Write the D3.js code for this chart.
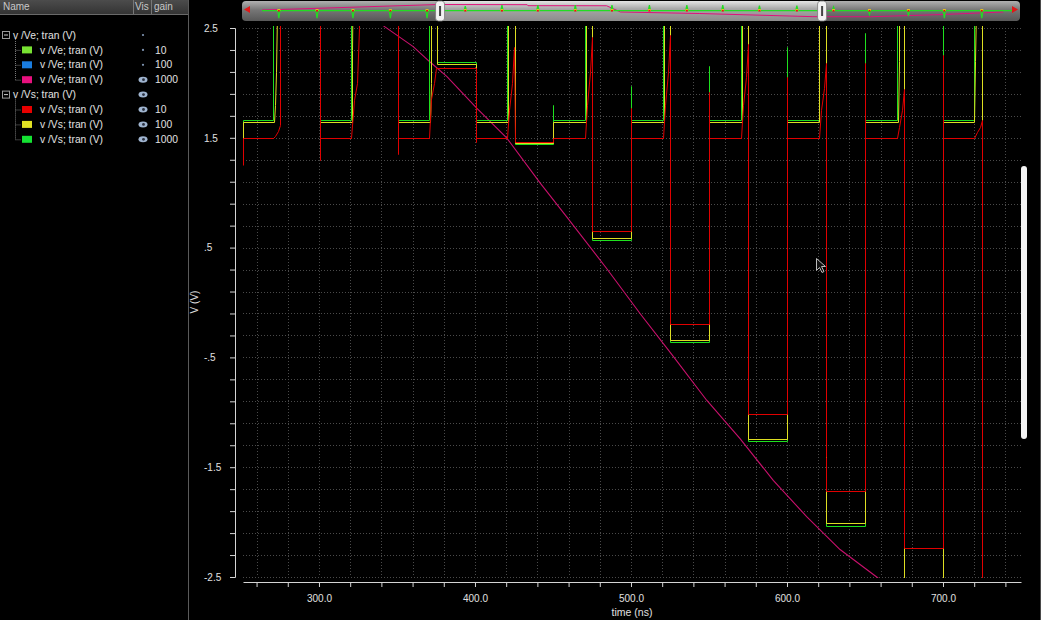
<!DOCTYPE html>
<html><head><meta charset="utf-8">
<script src="https://cdn.jsdelivr.net/npm/d3@7"></script>
<style>
html,body{margin:0;padding:0;background:#000;overflow:hidden}
svg{display:block}
text{font-family:"Liberation Sans",Arial,sans-serif}
</style>
</head><body>
<svg id="c" width="1041" height="620"></svg>
<script>
// ---------------- data ----------------
const legendLabels = ["v /Ve; tran (V)","v /Ve; tran (V)","v /Ve; tran (V)","v /Ve; tran (V)",
                      "v /Vs; tran (V)","v /Vs; tran (V)","v /Vs; tran (V)","v /Vs; tran (V)"];
const legendLevels = [0,1,1,1,0,1,1,1];
const legendColors = [null,"#78e232","#1a7de0","#e8107e",null,"#e80000","#e2e224","#14e232"];
const legendVisible = [false,false,false,true,true,true,true,true];
const legendGains = ["","10","100","1000","","10","100","1000"];

const xMajorTicks = [300,400,500,600,700];
const xTickLabels = ["300.0","400.0","500.0","600.0","700.0"];
const yLabelTicks = [2.5,1.5,0.5,-0.5,-1.5,-2.5];
const yTickLabels = ["2.5","1.5",".5","-.5","-1.5","-2.5"];
const xAxisTitle = "time (ns)";
const yAxisTitle = "V (V)";

// v /Ve gain 1000 (magenta) [time ns, V]
const ve1000 = [[320,2.75],[342.3,2.51],[360.4,2.33],[371.2,2.19],[381.9,2.06],[401.1,1.77],[420.3,1.50],
  [441.7,1.09],[458.8,0.78],[484.4,0.31],[505.8,-0.10],[527.1,-0.49],[548.5,-0.89],[569.9,-1.24],
  [591.2,-1.62],[612.6,-1.95],[634.0,-2.25],[657.5,-2.50],[670,-2.64]];

// v /Vs gain 1000 (green)
const vs1000 = [[251.3,1.50],[251.3,1.664],[270.5,1.664],[270.5,3.2],[300.6,3.2],[300.6,1.664],
  [320.5,1.664],[320.5,3.2],[350.6,3.2],[350.6,1.664],
  [370.5,1.664],[370.5,3.2],[375.6,3.2],[375.6,2.19],[400.6,2.19],[400.6,1.664],
  [420.5,1.664],[420.5,3.2],[425.4,3.2],[425.4,1.44],[450,1.44],[450,1.80],[450.2,1.664],
  [470.5,1.664],[470.5,3.2],[475,3.2],[475,0.57],[500,0.57],[500,1.97],[500.2,1.664],
  [520.5,1.664],[520.5,3.2],[525,3.2],[525,-0.364],[550,-0.364],[550,2.15],[550.2,1.664],
  [570.5,1.664],[570.5,3.2],[575,3.2],[575,-1.26],[600,-1.26],[600,2.33],[600.2,1.664],
  [620.5,1.664],[620.5,3.2],[625,3.2],[625,-2.04],[650,-2.04],[650,2.45],[650.2,1.664],
  [670.5,1.664],[670.5,3.2],[675,3.2],[675,-3.2],[700,-3.2],[700,3.2],[700.2,1.664],
  [720,1.664],[720,3.2],[725,3.2],[725,-3.2],[750,-3.2]];

// v /Vs gain 100 (yellow)
const vs100 = [[251.3,1.45],[251.3,1.643],[271,1.643],[271.5,1.8],[272.5,2.1],[273.5,3.2],
  [300.6,3.2],[300.6,1.643],[321,1.643],[321.3,2.3],[322,3.2],[350.6,3.2],[350.6,1.643],
  [371,1.643],[371.5,2.0],[372,3.2],[375.6,3.2],[375.6,2.175],[400.6,2.175],[400.6,1.643],
  [421,1.643],[421.3,3.2],[425.4,3.2],[425.4,1.45],[450,1.45],[450,1.643],
  [471,1.643],[471.3,3.2],[475,3.2],[475,0.59],[500,0.59],[500,1.643],
  [521,1.643],[521.3,3.2],[525,3.2],[525,-0.345],[550,-0.345],[550,1.643],
  [571,1.643],[571.3,3.2],[575,3.2],[575,-1.24],[600,-1.24],[600,1.643],
  [620.5,1.643],[620.8,3.2],[625,3.2],[625,-2.01],[650,-2.01],[650,1.643],
  [671,1.643],[671.5,2.2],[672,3.2],[675,3.2],[675,-3.2],[700,-3.2],[700,1.643],
  [720,1.643],[720.5,2.2],[722,3.2],[725,3.2],[725,-3.2],[750,-3.2]];

// v /Vs gain 10 (red)
const vs10 = [[251.3,1.25],[251.3,1.5],[270.5,1.5],[272,1.52],[273.5,1.56],[275,1.62],[275.2,3.2],
  [300.6,3.2],[300.6,1.30],[300.8,1.5],
  [320.5,1.5],[322.2,1.84],[324.4,2.0],[325.6,2.5],[325.8,3.2],
  [350.6,3.2],[350.6,1.35],[350.8,1.5],
  [370.5,1.5],[372,1.85],[373.5,2.0],[375,2.133],[400.6,2.133],[400.6,1.46],[400.8,1.5],
  [420.5,1.5],[422,1.75],[423.5,2.0],[425.2,2.33],[425.4,1.46],[450,1.46],[450.2,1.5],
  [470.5,1.5],[472,1.8],[473.5,2.1],[475,2.42],[475.2,0.655],[500,0.655],[500,1.77],[500.2,1.5],
  [520.5,1.5],[522,1.8],[523.5,2.1],[525,2.44],[525.2,-0.2],[550,-0.2],[550,1.92],[550.2,1.5],
  [570.5,1.5],[572,1.8],[573.5,2.05],[575,2.35],[575.2,-1.02],[600,-1.02],[600,2.05],[600.2,1.5],
  [620.5,1.5],[622,1.75],[623.5,1.95],[625,2.18],[625.2,-1.41],[625.3,-1.72],[650,-1.72],[650,2.18],[650.2,1.5],
  [670.5,1.5],[672,1.6],[673.5,1.75],[675,1.94],[675.2,-2.24],[700,-2.24],[700,2.25],[700.2,1.5],
  [720,1.5],[722,1.55],[723.5,1.6],[725,1.664],[725.2,-3.2],[750,-3.2]];

// overview strip (whole run)
const ovSpikeTimes = [39,89,136,185,233,283,331,378,427,475,524,573,620,668,717,765,812,863,910,959];
const ovSpikeAmps  = [-0.85,-0.85,-0.85,-0.85,-0.85,0.5,0.6,0.6,0.6,0.6,0.6,0.6,0.6,0.55,0.55,0.4,-0.45,-0.6,-0.85,-0.85];
const ovGreenBase = 0.05;
const ovMagenta = [[17,0.11],[38,0.16],[247,0.72],[364,0.70],[365,0.59],[468,0.58],[486,-0.11],
  [590,-0.28],[738,-0.63],[813,-0.64],[908,-0.39],[987,-0.11]];
const viewStart = 250, viewEnd = 750;

// ---------------- drawing ----------------
const svg = d3.select("#c");
const W = 1041, H = 620;
svg.append("rect").attr("width",W).attr("height",H).attr("fill","#000");

const x = d3.scaleLinear().domain([251.3,750]).range([243,1021]);
const y = d3.scaleLinear().domain([-2.5,2.5]).range([577,28]);

const defs = svg.append("defs");
defs.append("clipPath").attr("id","plotclip").append("rect")
  .attr("x",243).attr("y",26).attr("width",778).attr("height",552);
const g1 = defs.append("linearGradient").attr("id","strip").attr("x1",0).attr("y1",0).attr("x2",0).attr("y2",1);
g1.append("stop").attr("offset","0%").attr("stop-color","#b0b0b0");
g1.append("stop").attr("offset","45%").attr("stop-color","#767676");
g1.append("stop").attr("offset","100%").attr("stop-color","#585858");
const g2 = defs.append("linearGradient").attr("id","thumb").attr("x1",0).attr("y1",0).attr("x2",0).attr("y2",1);
g2.append("stop").attr("offset","0%").attr("stop-color","#e4e4e4");
g2.append("stop").attr("offset","40%").attr("stop-color","#a6a6a6");
g2.append("stop").attr("offset","100%").attr("stop-color","#8c8c8c");
const g3 = defs.append("linearGradient").attr("id","hdr").attr("x1",0).attr("y1",0).attr("x2",0).attr("y2",1);
g3.append("stop").attr("offset","0%").attr("stop-color","#4c4c4c");
g3.append("stop").attr("offset","100%").attr("stop-color","#343434");

// grid
const grid = svg.append("g");
const xGridTicks = d3.range(260, 741, 20);
const yGridTicks = d3.range(0, 26).map(i => +(-2.5 + i*0.2).toFixed(2));
grid.selectAll("line.h").data(yGridTicks).join("line")
  .attr("x1",243).attr("x2",1021).attr("y1",d=>Math.round(y(d))+0.5).attr("y2",d=>Math.round(y(d))+0.5)
  .attr("stroke","#4a4a4a").attr("stroke-dasharray","1,2");
grid.selectAll("line.v").data(xGridTicks).join("line")
  .attr("y1",28).attr("y2",577).attr("x1",d=>Math.round(x(d))+0.5).attr("x2",d=>Math.round(x(d))+0.5)
  .attr("stroke","#4a4a4a").attr("stroke-dasharray","1,2");

// traces
const plot = svg.append("g").attr("clip-path","url(#plotclip)");
const line = d3.line().x(d=>Math.round(x(d[0]))+0.5).y(d=>Math.round(y(d[1]))+0.5);
plot.append("path").datum(ve1000).attr("d",d3.line().x(d=>x(d[0])).y(d=>y(d[1]))).attr("fill","none")
  .attr("stroke","#c8106c").attr("stroke-width",1.1);
[[vs1000,"#1ee01e"],[vs100,"#dede22"],[vs10,"#e00000"]].forEach(([data,col])=>{
  plot.append("path").datum(data).attr("d",line).attr("fill","none")
    .attr("stroke",col).attr("stroke-width",1);
});

// axes
const axCol = "#d4d4d4";
const xAxis = d3.axisBottom(x).tickValues(xGridTicks).tickSize(5).tickSizeOuter(0)
  .tickFormat(d => { const i = xMajorTicks.indexOf(d); return i >= 0 ? xTickLabels[i] : ""; });
const gx = svg.append("g").attr("transform","translate(0,582)").call(xAxis);
gx.select(".domain").attr("stroke",axCol);
gx.selectAll(".tick line").attr("stroke",axCol);
gx.selectAll(".tick text").attr("fill","#e0e0e0").attr("font-size",10).attr("y",13)
  .attr("font-family","'Liberation Sans',Arial,sans-serif");

const yAxis = d3.axisLeft(y).tickValues(yGridTicks).tickSize(5).tickSizeOuter(5)
  .tickFormat(d => { const i = yLabelTicks.findIndex(v => Math.abs(v-d) < 1e-6); return i >= 0 ? yTickLabels[i] : ""; });
const gy = svg.append("g").attr("transform","translate(235,0)").call(yAxis);
gy.select(".domain").attr("stroke",axCol);
gy.selectAll(".tick line").attr("stroke",axCol);
gy.selectAll(".tick text").attr("fill","#e0e0e0").attr("font-size",10).attr("x",-31)
  .attr("text-anchor","start").attr("font-family","'Liberation Sans',Arial,sans-serif");

svg.append("text").attr("x",632).attr("y",616).attr("text-anchor","middle")
  .attr("fill","#e0e0e0").attr("font-size",10.5).text(xAxisTitle);
svg.append("text").attr("transform","translate(198,302) rotate(-90)").attr("text-anchor","middle")
  .attr("fill","#e0e0e0").attr("font-size",10).text(yAxisTitle);

// overview strip
const ovX = d3.scaleLinear().domain([-9.2, 1009]).range([242, 1020]);
const ovY = d3.scaleLinear().domain([-1, 1]).range([20, 2]);
const ov = svg.append("g");
ov.append("rect").attr("x",242).attr("y",1).attr("width",778).attr("height",20).attr("rx",4)
  .attr("fill","url(#strip)");
ov.append("rect").attr("x",ovX(viewStart)).attr("y",1).attr("width",ovX(viewEnd)-ovX(viewStart)).attr("height",20).attr("rx",3)
  .attr("fill","url(#thumb)");
const ovGreen = [[17, ovGreenBase]];
ovSpikeTimes.forEach((t,i)=>{ ovGreen.push([t-1.5,ovGreenBase],[t,ovGreenBase+ovSpikeAmps[i]],[t+1.5,ovGreenBase]); });
ovGreen.push([1000, ovGreenBase]);
const ovLine = d3.line().x(d=>ovX(d[0])).y(d=>ovY(d[1]));
ov.append("path").datum(ovMagenta).attr("d",ovLine).attr("fill","none").attr("stroke","#e0107a").attr("stroke-width",1);
ov.append("path").datum(ovGreen).attr("d",ovLine).attr("fill","none").attr("stroke","#22dd22").attr("stroke-width",1.2);
ov.selectAll("rect.rm").data(ovSpikeTimes).join("rect")
  .attr("x",d=>ovX(d)-1.5).attr("y",ovY(ovGreenBase)-1.5).attr("width",3).attr("height",2).attr("fill","#e8c020");
ov.selectAll("rect.rr").data(ovSpikeTimes).join("rect")
  .attr("x",d=>ovX(d)-1).attr("y",ovY(ovGreenBase)-0.5).attr("width",2).attr("height",1.5).attr("fill","#e81010");
[viewStart, viewEnd].forEach(t=>{
  const hx = ovX(t);
  ov.append("rect").attr("x",hx-4.5).attr("y",1).attr("width",9).attr("height",20).attr("rx",3)
    .attr("fill","#f2f2f2").attr("stroke","#7a7a7a").attr("stroke-width",0.8);
  ov.append("rect").attr("x",hx-1).attr("y",6).attr("width",2).attr("height",10).attr("fill","#444");
});
ov.append("path").attr("d",`M${ovX(-9.2)+2},9.5 l6,-3.5 l0,7 z`).attr("fill","#e01818");
ov.append("path").attr("d",`M${ovX(1009)-2},9.5 l-6,-3.5 l0,7 z`).attr("fill","#e01818");

// right scrollbar & border
svg.append("rect").attr("x",1021).attr("y",166).attr("width",6).attr("height",273).attr("rx",3).attr("fill","#f4f4f4");
svg.append("line").attr("x1",1040.5).attr("x2",1040.5).attr("y1",0).attr("y2",620).attr("stroke","#4a4a4a");

// cursor
svg.append("path").attr("d","M816.5,258.5 l0,12 l3,-3 l2.5,5 l2,-1 l-2.5,-5 l4,0 z")
  .attr("fill","#111").attr("stroke","#bbb").attr("stroke-width",1);

// ---------------- legend panel ----------------
const lp = svg.append("g");
lp.append("rect").attr("x",0).attr("y",0).attr("width",188).attr("height",620).attr("fill","#000");
lp.append("line").attr("x1",188.5).attr("x2",188.5).attr("y1",0).attr("y2",620).attr("stroke","#5a5a5a");
lp.append("rect").attr("x",0).attr("y",0).attr("width",188).attr("height",14).attr("fill","url(#hdr)");
lp.append("line").attr("x1",0).attr("x2",188).attr("y1",14.5).attr("y2",14.5).attr("stroke","#6a6a6a");
[133.5,151.5].forEach(sx=>lp.append("line").attr("x1",sx).attr("x2",sx).attr("y1",0).attr("y2",14).attr("stroke","#777"));
lp.append("text").attr("x",3).attr("y",10).attr("fill","#c8c8c8").attr("font-size",10).text("Name");
lp.append("text").attr("x",135).attr("y",10).attr("fill","#c8c8c8").attr("font-size",10).text("Vis");
lp.append("text").attr("x",154).attr("y",10).attr("fill","#c8c8c8").attr("font-size",10).text("gain");

const rowY = i => 35 + i*14.9;
[[0,3],[4,7]].forEach(([a,b])=>{
  lp.append("line").attr("x1",15.5).attr("x2",15.5).attr("y1",rowY(a)+4).attr("y2",rowY(b))
    .attr("stroke","#777").attr("stroke-dasharray","1,1");
});
legendLabels.forEach((lab,i)=>{
  const cy = rowY(i);
  if (legendLevels[i] === 0) {
    lp.append("rect").attr("x",2.5).attr("y",cy-3.5).attr("width",7).attr("height",7)
      .attr("fill","none").attr("stroke","#9a9a9a");
    lp.append("line").attr("x1",4).attr("x2",8).attr("y1",cy).attr("y2",cy).attr("stroke","#ccc");
    lp.append("text").attr("x",13).attr("y",cy+3.6).attr("fill","#e2e2e2").attr("font-size",10.3).text(lab);
  } else {
    lp.append("line").attr("x1",15.5).attr("x2",21).attr("y1",cy+0.5).attr("y2",cy+0.5)
      .attr("stroke","#777").attr("stroke-dasharray","1,1");
    lp.append("rect").attr("x",22).attr("y",cy-3.5).attr("width",10).attr("height",7).attr("fill",legendColors[i]);
    lp.append("text").attr("x",40).attr("y",cy+3.6).attr("fill","#e2e2e2").attr("font-size",10.3).text(lab);
  }
  if (legendVisible[i]) {
    lp.append("ellipse").attr("cx",143).attr("cy",cy).attr("rx",4.5).attr("ry",3).attr("fill","#9fb4cf");
    lp.append("circle").attr("cx",143.5).attr("cy",cy).attr("r",1.4).attr("fill","#2a3040");
  } else {
    lp.append("circle").attr("cx",143).attr("cy",cy).attr("r",1.1).attr("fill","#8096b4");
  }
  if (legendGains[i]) lp.append("text").attr("x",155).attr("y",cy+3.6).attr("fill","#e2e2e2").attr("font-size",10.3).text(legendGains[i]);
});
</script>
</body></html>
